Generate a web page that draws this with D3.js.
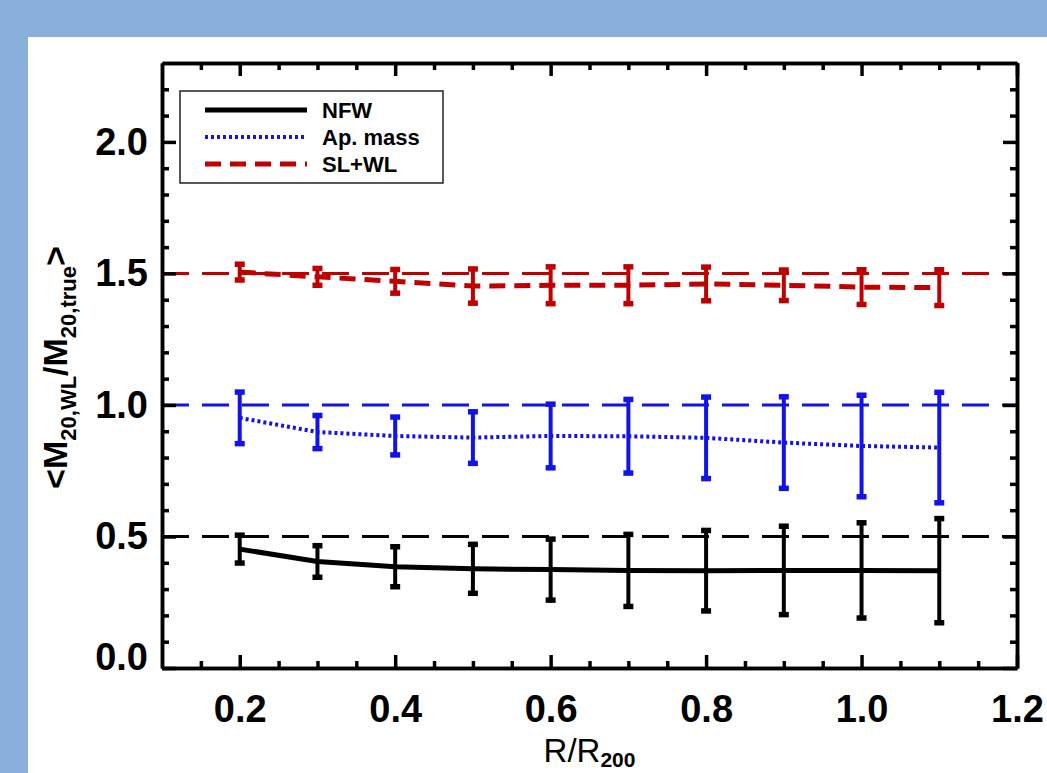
<!DOCTYPE html>
<html lang="en">
<head>
    <meta charset="UTF-8">
    <title>Mass ratio vs R/R200</title>
    <script src="https://d3js.org/d3.v7.min.js"></script>
    <style>
        body { margin: 0; background: #87afd9; }
        svg { display: block; }
        .tick text { font-family: "Liberation Sans", Arial, sans-serif; font-weight: bold; font-size: 38px; fill: #000; }
        .axis path, .axis line { stroke: #000; stroke-width: 3.5; }
    </style>
</head>
<body>
<svg id="chart" width="1047" height="773"></svg>
<script>
    // radius bins (R/R200)
    var radius = [0.2, 0.3, 0.4, 0.5, 0.6, 0.7, 0.8, 0.9, 1.0, 1.1];

    // NFW fit
    var nfwMean = [0.452, 0.405, 0.385, 0.377, 0.374, 0.371, 0.370, 0.371, 0.371, 0.370];
    var nfwErr  = [0.053, 0.060, 0.076, 0.093, 0.116, 0.137, 0.153, 0.168, 0.181, 0.198];

    // aperture mass
    var apMean = [0.951, 0.897, 0.882, 0.876, 0.882, 0.881, 0.875, 0.857, 0.844, 0.838];
    var apErr  = [0.098, 0.063, 0.072, 0.098, 0.121, 0.140, 0.155, 0.174, 0.193, 0.210];

    // strong + weak lensing
    var slMean = [1.505, 1.487, 1.470, 1.452, 1.455, 1.455, 1.460, 1.455, 1.448, 1.446];
    var slErr  = [0.030, 0.032, 0.045, 0.065, 0.070, 0.070, 0.064, 0.058, 0.066, 0.068];

    // offset reference levels
    var refLevels = [0.5, 1.0, 1.5];

    var xTicks = [0.2, 0.4, 0.6, 0.8, 1.0, 1.2];
    var yTicks = [0.0, 0.5, 1.0, 1.5, 2.0];
    var legendNames = ["NFW", "Ap. mass", "SL+WL"];

    var svg = d3.select("#chart");

    // white panel over the blue backdrop
    svg.append("rect")
        .attr("x", 28).attr("y", 37)
        .attr("width", 1047 - 28).attr("height", 773 - 37)
        .attr("fill", "#fff");

    var margin = {left: 162, right: 1017, top: 63, bottom: 668};
    var x = d3.scaleLinear().domain([0.1, 1.2]).range([margin.left, margin.right]);
    var y = d3.scaleLinear().domain([0, 2.3]).range([margin.bottom, margin.top]);

    var series = [
        {mean: nfwMean, err: nfwErr, color: "#000", dash: null, width: 5, ref: refLevels[0]},
        {mean: apMean, err: apErr, color: "#1212ea", dash: "3,3", width: 4, ref: refLevels[1]},
        {mean: slMean, err: slErr, color: "#c00000", dash: "16,9", width: 5, ref: refLevels[2]}
    ];

    // dashed reference lines
    series.forEach(function(s) {
        svg.append("line")
            .attr("x1", x(0.1)).attr("x2", x(1.2))
            .attr("y1", y(s.ref)).attr("y2", y(s.ref))
            .attr("stroke", s.color)
            .attr("stroke-width", 3)
            .attr("stroke-dasharray", "27,13");
    });

    // series lines and error bars
    var line = d3.line()
        .x(function(d) { return x(d[0]); })
        .y(function(d) { return y(d[1]); });

    series.forEach(function(s) {
        var pts = radius.map(function(r, i) { return [r, s.mean[i], s.err[i]]; });

        svg.append("path")
            .datum(pts)
            .attr("d", line)
            .attr("fill", "none")
            .attr("stroke", s.color)
            .attr("stroke-width", s.width)
            .attr("stroke-dasharray", s.dash);

        var eb = svg.append("g").selectAll("g")
            .data(pts)
            .enter().append("g");

        eb.append("line")
            .attr("x1", function(d) { return x(d[0]); })
            .attr("x2", function(d) { return x(d[0]); })
            .attr("y1", function(d) { return y(d[1] - d[2]); })
            .attr("y2", function(d) { return y(d[1] + d[2]); })
            .attr("stroke", s.color)
            .attr("stroke-width", 4);

        [-1, 1].forEach(function(sign) {
            eb.append("line")
                .attr("x1", function(d) { return x(d[0]) - 5; })
                .attr("x2", function(d) { return x(d[0]) + 5; })
                .attr("y1", function(d) { return y(d[1] + sign * d[2]); })
                .attr("y2", function(d) { return y(d[1] + sign * d[2]); })
                .attr("stroke", s.color)
                .attr("stroke-width", 5.5);
        });
    });

    // axes
    var xMinor = d3.range(0.15, 1.2, 0.05).filter(function(v) { return Math.abs(v * 5 - Math.round(v * 5)) > 1e-6; });
    var yMinor = d3.range(0.1, 2.3, 0.1).filter(function(v) { return Math.abs(v * 2 - Math.round(v * 2)) > 1e-6; });

    function addAxis(axis, tx, ty, labels) {
        var g = svg.append("g")
            .attr("class", "axis")
            .attr("transform", "translate(" + tx + "," + ty + ")")
            .call(axis);
        if (!labels) g.selectAll("text").remove();
        return g;
    }

    // bottom
    addAxis(d3.axisBottom(x).tickValues(xTicks).tickSize(-13).tickSizeOuter(0).tickPadding(27)
        .tickFormat(d3.format(".1f")), 0, margin.bottom, true);
    addAxis(d3.axisBottom(x).tickValues(xMinor).tickSize(-7).tickSizeOuter(0).tickFormat(""), 0, margin.bottom, false);
    // top
    addAxis(d3.axisTop(x).tickValues(xTicks).tickSize(-13).tickSizeOuter(0), 0, margin.top, false);
    addAxis(d3.axisTop(x).tickValues(xMinor).tickSize(-7).tickSizeOuter(0), 0, margin.top, false);
    // left
    var ly = addAxis(d3.axisLeft(y).tickValues(yTicks).tickSize(-14).tickSizeOuter(0).tickPadding(14)
        .tickFormat(d3.format(".1f")), margin.left, 0, true);
    addAxis(d3.axisLeft(y).tickValues(yMinor).tickSize(-7).tickSizeOuter(0).tickFormat(""), margin.left, 0, false);
    // right
    addAxis(d3.axisRight(y).tickValues(yTicks).tickSize(-14).tickSizeOuter(0), margin.right, 0, false);
    addAxis(d3.axisRight(y).tickValues(yMinor).tickSize(-7).tickSizeOuter(0), margin.right, 0, false);

    // the 0.0 label sits a little above its tick
    ly.selectAll(".tick text").filter(function(d) { return d === 0; }).attr("dy", "0.03em");

    // x title
    var xt = svg.append("text")
        .attr("x", (margin.left + margin.right) / 2)
        .attr("y", 762)
        .attr("text-anchor", "middle")
        .style("font-family", "Liberation Sans, Arial, sans-serif")
        .style("font-size", "33px");
    xt.append("tspan").text("R/R");
    xt.append("tspan").attr("dy", 5).style("font-size", "21px").style("font-weight", "bold").text("200");

    // y title
    var yt = svg.append("text")
        .attr("transform", "translate(67," + ((margin.top + margin.bottom) / 2 + 2) + ") rotate(-90)")
        .attr("text-anchor", "middle")
        .style("font-family", "Liberation Sans, Arial, sans-serif")
        .style("font-weight", "bold")
        .style("font-size", "34px");
    yt.append("tspan").text("<M");
    yt.append("tspan").attr("dy", 9).style("font-size", "22px").text("20,WL");
    yt.append("tspan").attr("dy", -9).text("/M");
    yt.append("tspan").attr("dy", 9).style("font-size", "22px").text("20,true");
    yt.append("tspan").attr("dy", -9).text(">");

    // legend
    svg.append("rect")
        .attr("x", 180).attr("y", 91)
        .attr("width", 263).attr("height", 92)
        .attr("fill", "#fff")
        .attr("stroke", "#222")
        .attr("stroke-width", 1.5);

    var legendY = [110, 137, 164];
    series.forEach(function(s, i) {
        svg.append("line")
            .attr("x1", 205).attr("x2", 307)
            .attr("y1", legendY[i]).attr("y2", legendY[i])
            .attr("stroke", s.color)
            .attr("stroke-width", s.width)
            .attr("stroke-dasharray", s.dash);
        svg.append("text")
            .attr("x", 322)
            .attr("y", legendY[i] + 7.5)
            .style("font-family", "Liberation Sans, Arial, sans-serif")
            .style("font-weight", "bold")
            .style("font-size", "22px")
            .text(legendNames[i]);
    });
</script>
</body>
</html>
